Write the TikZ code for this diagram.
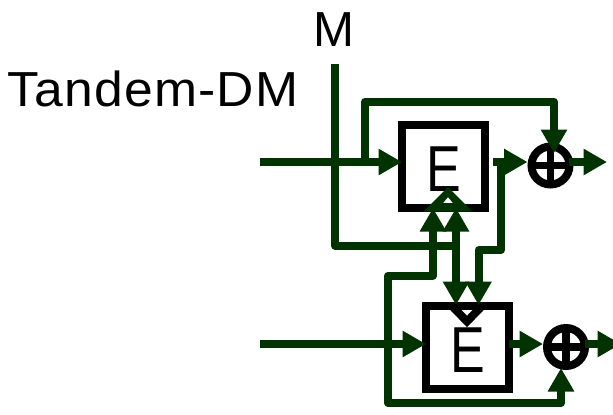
\documentclass[tikz,border=0pt]{standalone}
\usepackage{fontspec}
\setmainfont{Liberation Sans}
\newfontfamily\titlefont[FakeStretch=1.05,LetterSpace=2.5]{Liberation Sans}
\newfontfamily\blockfont[FakeStretch=.8]{Liberation Sans}
\usetikzlibrary{calc,arrows.meta,positioning}
\definecolor{wiregreen}{HTML}{003300}
\tikzset{
  wire/.style={draw=wiregreen,line width=.16cm,line join=round},
  tip/.style={-{Triangle[length=.47cm,width=.5cm]}},
  tips/.style={{Triangle[length=.47cm,width=.5cm]}-{Triangle[length=.47cm,width=.5cm]}},
  blockbox/.style={draw=black,line width=.175cm,minimum size=1.66cm,inner sep=0pt,outer sep=0pt,
    font=\blockfont\fontsize{37}{38}\selectfont,text height=27.9pt,text depth=0pt},
  xorsum/.style={circle,draw=black,line width=.16cm,minimum size=.76cm,inner sep=0pt,
    path picture={
      \draw[black,line width=.15cm](path picture bounding box.north)--(path picture bounding box.south);
      \draw[black,line width=.15cm](path picture bounding box.west)--(path picture bounding box.east);
    }},
  heading/.style={anchor=base,inner sep=0pt,font=\fontsize{28}{30}\selectfont},
}
\begin{document}
\begin{tikzpicture}[x=.02cm,y=-.02cm]
  \useasboundingbox (0,0) rectangle (613,414);
  \node[heading](tandem) at (153,106){\titlefont Tandem-DM};
  \node[heading](msg) at (334,46){M};
  \node[blockbox](E1) at (443.5,166.5){E};
  \node[blockbox](E2) at (467.5,347.5){E};
  \node[xorsum](xor1) at (550.5,165.5){};
  \node[xorsum](xor2) at (566,347){};
  \coordinate(in1) at (260,162);
  \coordinate(in2) at (260,344);
  \coordinate(mtop) at (335,64);
  \coordinate(out1) at (493,162);
  \coordinate(out2) at (509,344);
  \coordinate(res1) at (569,162);
  \coordinate(res2) at (585,344);
  % clock marks
  \fill[wiregreen,even odd rule](423.5,211.5)--(448,187)--(472.5,211.5)--cycle
    (443,203)--(448,197)--(453,203)--cycle;
  \draw[black,line width=.16cm](451,305)--(467,321.5)--(483,305);
  % inputs
  \draw[wire,tip](in1)--(in1 -| E1.west);
  \draw[wire,tip](in2)--(in2 -| E2.west);
  \draw[wire,tip](365,162)--(365,101.5)--(554,101.5)--(554,153);
  \draw[wire](mtop)--(335,245.5)--(456,245.5);
  % between the boxes
  \draw[wire,tips](456,208)--(456,305);
  \draw[wire,tip](501,162)--(501,250)--(478.5,250)--(478.5,305);
  \draw[wire,tips](433,208)--(433,275.5)--(388,275.5)--(388,403)--(561,403)--(561,368);
  % outputs
  \draw[wire,tip](out1)--(out1 -| xor1.west);
  \draw[wire,tip](out2)--(out2 -| xor2.west);
  \draw[wire,tip](res1)--(607,162);
  \draw[wire,tip](res2)--(621,344);
\end{tikzpicture}
\end{document}
